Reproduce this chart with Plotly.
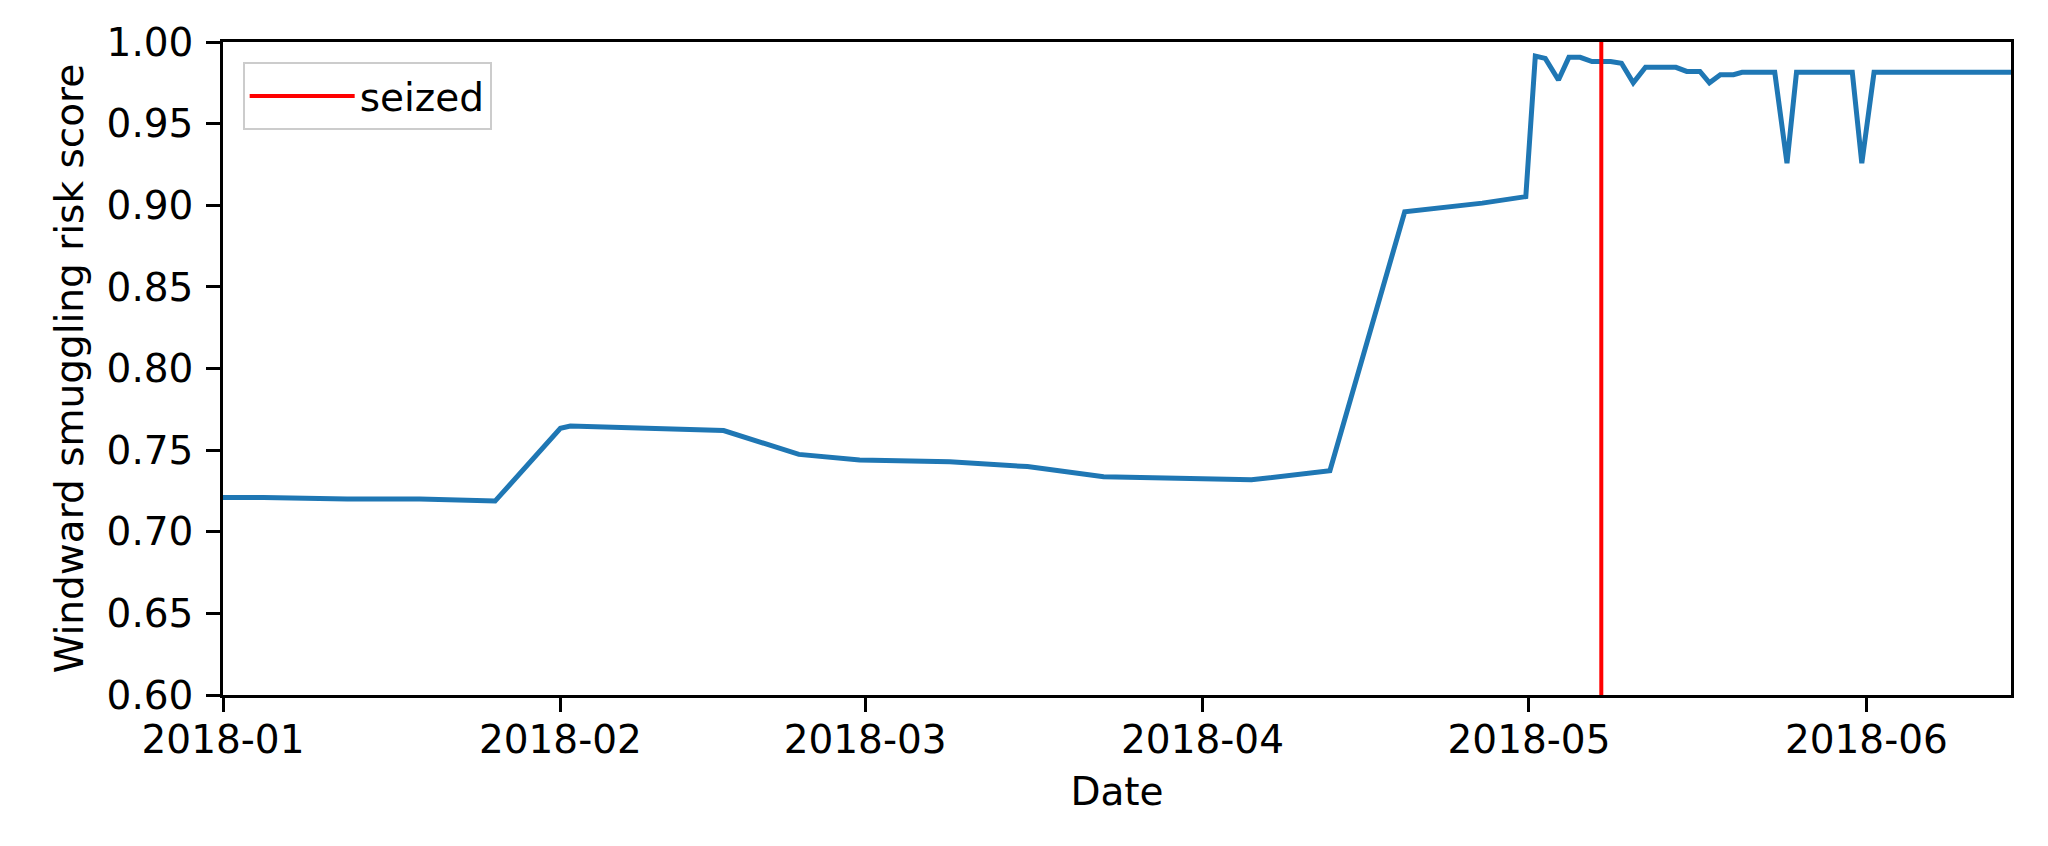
import plotly.graph_objects as go

# Risk score readings
dates = ["2018-01-01 00:00", "2018-01-04 17:00", "2018-01-12 10:00", "2018-01-19 02:00",
         "2018-01-26 00:00", "2018-02-01 00:00", "2018-02-01 22:00", "2018-02-16 00:00",
         "2018-02-22 22:00", "2018-02-28 12:00", "2018-03-08 19:00", "2018-03-15 22:00",
         "2018-03-22 22:00", "2018-04-05 12:00", "2018-04-12 17:00", "2018-04-19 14:00",
         "2018-04-26 17:00", "2018-04-30 17:00", "2018-05-01 14:00", "2018-05-02 12:00",
         "2018-05-03 17:00", "2018-05-04 16:00", "2018-05-05 17:00", "2018-05-06 19:00",
         "2018-05-08 12:00", "2018-05-09 12:00", "2018-05-10 14:00", "2018-05-11 17:00",
         "2018-05-14 12:00", "2018-05-15 12:00", "2018-05-16 17:00", "2018-05-17 14:00",
         "2018-05-18 14:00", "2018-05-19 19:00", "2018-05-20 14:00", "2018-05-23 14:00",
         "2018-05-24 17:00", "2018-05-25 14:00", "2018-05-30 17:00", "2018-05-31 14:00",
         "2018-06-01 17:00", "2018-06-14 07:00"]
scores = [0.721, 0.721, 0.720, 0.720,
          0.7188, 0.7634, 0.7648, 0.762,
          0.7474, 0.744, 0.7429, 0.7399,
          0.7337, 0.7318, 0.7374, 0.896,
          0.9013, 0.9053, 0.9914, 0.990,
          0.9767, 0.9906, 0.9906, 0.988,
          0.988, 0.987, 0.975, 0.9845,
          0.9845, 0.982, 0.982, 0.975,
          0.980, 0.980, 0.9814, 0.9814,
          0.9257, 0.9814, 0.9814, 0.9257,
          0.9814, 0.9814]

seized_date = "2018-05-07 15:30"

y_range = [0.6, 1.0]
x_range = ["2018-01-01", "2018-06-14 07:00"]
y_ticks = [0.60, 0.65, 0.70, 0.75, 0.80, 0.85, 0.90, 0.95, 1.00]
x_ticks = ["2018-01-01", "2018-02-01", "2018-03-01", "2018-04-01", "2018-05-01", "2018-06-01"]
x_tick_labels = ["2018-01", "2018-02", "2018-03", "2018-04", "2018-05", "2018-06"]

FONT = "DejaVu Sans"
FONT_SIZE = 39

fig = go.Figure()

fig.add_trace(go.Scatter(x=dates, y=scores, mode="lines", showlegend=False,
                         line=dict(color="#1f77b4", width=5)))

# seized marker, spans the whole y axis
fig.add_trace(go.Scatter(x=[seized_date, seized_date], y=y_range, mode="lines", name="seized",
                         line=dict(color="#ff0000", width=4)))

axis_common = dict(showline=True, linecolor="black", linewidth=2.5, mirror=True,
                   ticks="outside", ticklen=14, tickwidth=2.5, tickcolor="black",
                   showgrid=False, zeroline=False,
                   tickfont=dict(family=FONT, size=FONT_SIZE, color="black"))

# page body has an 8px margin, so the figure is a bit smaller than the window
fig.update_layout(
    width=2032, height=830,
    paper_bgcolor="white", plot_bgcolor="white",
    margin=dict(l=215, r=29, t=34, b=143),
    font=dict(family=FONT, size=FONT_SIZE, color="black"),
    xaxis=dict(range=x_range, tickvals=x_ticks, ticktext=x_tick_labels, ticklabelstandoff=-6,
               title=dict(text="Date", standoff=18, font=dict(family=FONT, size=FONT_SIZE)),
               **axis_common),
    yaxis=dict(range=y_range, tickvals=y_ticks, tickformat=".2f", ticklabelstandoff=5,
               title=dict(text="Windward smuggling risk score", standoff=11,
                          font=dict(family=FONT, size=FONT_SIZE)),
               **axis_common),
    legend=dict(x=0.011, y=0.969, xanchor="left", yanchor="top",
                bgcolor="rgba(255,255,255,0.8)", bordercolor="#cccccc", borderwidth=2,
                font=dict(family=FONT, size=FONT_SIZE), itemwidth=105),
)

fig.write_html("out.html")
